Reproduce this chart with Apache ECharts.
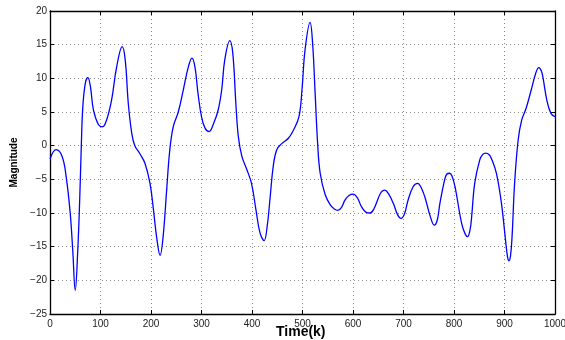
<!DOCTYPE html>
<html>
<head>
<meta charset="utf-8">
<script src="https://cdn.jsdelivr.net/npm/echarts@6/dist/echarts.min.js"></script>
<style>
  html, body { margin: 0; padding: 0; background: #fff; }
  #chart { width: 565px; height: 340px; }
</style>
</head>
<body>
<div id="chart"></div>
<script>
// sample positions (k)
const timeK = [0, 12, 24, 32, 40, 45, 50, 55, 59, 62, 65, 70, 75, 80, 86, 96, 104, 112, 122, 132,
  143, 149, 155, 162, 168, 178, 188, 198, 205, 211, 218, 224, 231, 237, 244, 254, 264, 274, 281, 287,
  293, 300, 307, 315, 323, 333, 340, 346, 356, 362, 368, 373, 380, 389, 399, 408, 416, 424, 430, 436,
  442, 449, 459, 472, 482, 493, 499, 505, 515, 520, 525, 530, 535, 545, 555, 563, 570, 577, 584, 592,
  601, 609, 617, 626, 634, 642, 650, 656, 663, 670, 680, 688, 695, 702, 709, 719, 728, 736, 743, 753,
  761, 767, 772, 782, 786, 791, 796, 802, 815, 822, 827, 832, 835, 841, 851, 857, 863, 869, 874, 884,
  894, 902, 906, 909, 912, 915, 920, 927, 934, 943, 953, 962, 968, 973, 976, 984, 992, 1000]
const magnitude = [-2, -0.6, -1.6, -4.6, -10, -15.5, -21.5, -15.5, -7.6, 0, 5.8, 9.3, 10.1, 8.8, 5.3, 3.1, 2.8, 3.8, 6.8, 11.7,
  14.7, 12.7, 6.3, 1.8, 0, -1.2, -2.6, -5.6, -9.6, -13.5, -16.3, -13.5, -6.6, -0.8, 2.8, 5, 8.3, 11.7, 13, 11.7,
  7.8, 4.3, 2.6, 2.1, 3.1, 5.3, 8.3, 12.7, 15.6, 13.7, 6.3, 1.3, -1.6, -3.4, -5.6, -9.6, -13, -14.1, -12, -7.6,
  -3.1, -0.6, 0.3, 1.1, 2.3, 4.3, 8.3, 14.2, 18.3, 15.2, 7.8, 0.3, -4.1, -7.3, -8.8, -9.4, -9.6, -9.2, -8.1, -7.4,
  -7.2, -7.8, -9.1, -9.9, -10, -9.3, -7.8, -6.9, -6.6, -7.1, -8.6, -10.2, -10.8, -10.1, -8.1, -6.1, -5.6, -6.4, -7.8, -10.5,
  -11.8, -11, -8.6, -4.9, -4.2, -4.1, -4.5, -6.1, -11.5, -13.1, -13.5, -12.4, -10.5, -5.6, -2.1, -1.3, -1.1, -1.3, -1.9, -4.1,
  -8.6, -14, -16.5, -17.1, -16.3, -13.5, -5.6, 0.8, 3.8, 5.6, 8.3, 10.8, 11.6, 11.1, 10.2, 6.7, 4.8, 4.3]

const xTicks = { min: 0, max: 1000, interval: 100 }
const yTicks = { min: -25, max: 20, interval: 5 }

const font = '"Liberation Sans", Arial, Helvetica, sans-serif'
const gridLine = { show: true, lineStyle: { color: '#8a8a8a', type: [1, 3], width: 1 } }
const frameLine = { show: true, onZero: false, lineStyle: { color: '#000', width: 1.3 } }
const inTick = { show: true, inside: true, length: 4, lineStyle: { color: '#000' } }

const chart = echarts.init(document.getElementById('chart'), null, { renderer: 'canvas' })
chart.setOption({
  animation: false,
  grid: { left: 50, right: 10, top: 11, bottom: 26, containLabel: false, outerBoundsMode: 'none' },
  // x axis title placed by hand, the axis name kept getting pushed below the labels
  graphic: [
    {
      type: 'text', left: 276, top: 325,
      style: { text: 'Time(k)', font: 'bold 14px ' + font, fill: '#000' },
    },
  ],
  xAxis: [
    {
      type: 'value', ...xTicks, position: 'bottom',
      axisLine: frameLine, axisTick: inTick, splitLine: gridLine,
      axisLabel: { fontFamily: font, fontSize: 10, color: '#222', margin: 5, formatter: v => String(v) },
    },
    {
      type: 'value', ...xTicks, position: 'top',
      axisLine: frameLine, axisTick: inTick, axisLabel: { show: false }, splitLine: { show: false },
    },
  ],
  yAxis: [
    {
      type: 'value', ...yTicks, position: 'left',
      name: 'Magnitude', nameLocation: 'middle', nameGap: 30, nameRotate: 90,
      nameTextStyle: { fontFamily: font, fontWeight: 'bold', fontSize: 10, color: '#000' },
      axisLine: frameLine, axisTick: inTick, splitLine: gridLine,
      axisLabel: {
        fontFamily: font, fontSize: 10, color: '#222', margin: 3,
        formatter: v => String(v).replace('-', '\u2212'),
      },
    },
    {
      type: 'value', ...yTicks, position: 'right',
      axisLine: frameLine, axisTick: inTick, axisLabel: { show: false }, splitLine: { show: false },
    },
  ],
  series: [
    {
      type: 'line',
      xAxisIndex: 0,
      yAxisIndex: 0,
      data: timeK.map((t, i) => [t, magnitude[i]]),
      smooth: 0.4,
      showSymbol: false,
      lineStyle: { color: '#0000ff', width: 1.3 },
    },
  ],
})
</script>
</body>
</html>
